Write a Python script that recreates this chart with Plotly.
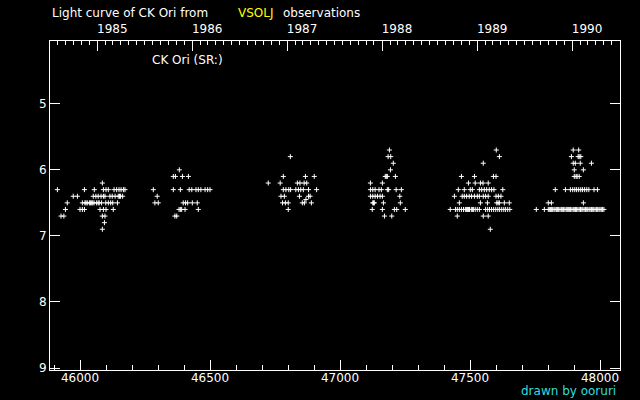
import datetime as dt
import plotly.graph_objects as go

# ---- data (JD - 2400000, visual magnitude) ----
jd_1985 = [45913, 45927, 45938, 45944, 45951, 45974, 45990, 46000, 46009, 46017,
           46017, 46009, 46019, 46023, 46028, 46036, 46040, 46045, 46049, 46054,
           46064, 46070, 46074, 46083, 46055, 46051, 46061, 46070, 46081, 46090,
           46096, 46086, 46090, 46100, 46109, 46077, 46090, 46100, 46086, 46096,
           46094, 46086, 46099, 46109, 46118, 46126, 46115, 46124, 46135, 46128,
           46131, 46141, 46150, 46158, 46167, 46173, 46144, 46147, 46152, 46156, 46164]
mag_1985 = [6.3, 6.7, 6.7, 6.6, 6.5, 6.4, 6.4, 6.6, 6.6, 6.6,
            6.3, 6.5, 6.5, 6.5, 6.5, 6.5, 6.5, 6.5, 6.5, 6.5,
            6.5, 6.5, 6.5, 6.5, 6.3, 6.4, 6.4, 6.4, 6.4, 6.4,
            6.4, 6.2, 6.3, 6.3, 6.3, 6.6, 6.6, 6.6, 6.7, 6.7,
            6.8, 6.9, 6.5, 6.5, 6.5, 6.5, 6.4, 6.4, 6.4, 6.6,
            6.3, 6.3, 6.3, 6.3, 6.3, 6.3, 6.5, 6.4, 6.4, 6.4, 6.4]

jd_1986 = [46282, 46297, 46288, 46301, 46359, 46367, 46394, 46417, 46382,
           46359, 46386, 46420, 46430, 46446, 46455, 46465, 46481, 46491, 46500,
           46397, 46406, 46414, 46432, 46451, 46381, 46386, 46391, 46404, 46455,
           46365, 46372]
mag_1986 = [6.3, 6.4, 6.5, 6.5, 6.1, 6.1, 6.1, 6.1, 6.0,
            6.3, 6.3, 6.3, 6.3, 6.3, 6.3, 6.3, 6.3, 6.3, 6.3,
            6.5, 6.5, 6.5, 6.5, 6.5, 6.6, 6.6, 6.6, 6.6, 6.6,
            6.7, 6.7]

jd_1987 = [46809, 46782, 46867, 46901, 46724, 46770, 46836, 46846, 46862, 46872,
           46782, 46792, 46803, 46810, 46830, 46840, 46849, 46859, 46879, 46910,
           46773, 46786, 46844, 46879, 46885, 46869, 46779, 46790, 46801, 46855,
           46863, 46890, 46801]
mag_1987 = [5.8, 6.1, 6.1, 6.1, 6.2, 6.2, 6.2, 6.2, 6.2, 6.2,
            6.3, 6.3, 6.3, 6.3, 6.3, 6.3, 6.3, 6.3, 6.3, 6.3,
            6.4, 6.4, 6.4, 6.4, 6.4, 6.45, 6.5, 6.5, 6.5, 6.5,
            6.5, 6.5, 6.6]

jd_1988 = [47190, 47185, 47195, 47205, 47194, 47174, 47178, 47182, 47213,
           47117, 47163, 47117, 47126, 47135, 47150, 47159, 47182, 47187, 47216, 47236,
           47117, 47126, 47135, 47144, 47154, 47163, 47230,
           47126, 47129, 47132, 47167, 47232, 47124, 47163, 47209, 47218, 47251,
           47171, 47199]
mag_1988 = [5.7, 5.8, 5.8, 5.9, 6.0, 6.1, 6.1, 6.1, 6.1,
            6.2, 6.2, 6.3, 6.3, 6.3, 6.3, 6.3, 6.3, 6.3, 6.3, 6.3,
            6.4, 6.4, 6.4, 6.4, 6.4, 6.4, 6.4,
            6.5, 6.5, 6.5, 6.5, 6.5, 6.6, 6.6, 6.6, 6.6, 6.6,
            6.7, 6.7]

jd_1989 = [47601, 47613, 47551, 47467, 47517, 47590, 47600,
           47494, 47520, 47540, 47550, 47570,
           47455, 47478, 47501, 47509, 47536, 47545, 47555, 47564, 47574, 47583, 47592, 47626,
           47440, 47470, 47478, 47487, 47497, 47506, 47517, 47528, 47536, 47551, 47560, 47570,
           47600, 47609, 47619,
           47459, 47540, 47567, 47603, 47608, 47613, 47632, 47651,
           47424, 47444, 47451, 47459, 47467, 47475, 47482, 47486, 47490, 47494, 47498, 47505,
           47509, 47513, 47520, 47528, 47536, 47560, 47568, 47575, 47583, 47591, 47599, 47607,
           47614, 47622, 47630, 47637, 47645, 47653,
           47451, 47551, 47570, 47578]
mag_1989 = [5.7, 5.8, 5.9, 6.1, 6.1, 6.1, 6.1,
            6.2, 6.2, 6.2, 6.2, 6.2,
            6.3, 6.3, 6.3, 6.3, 6.3, 6.3, 6.3, 6.3, 6.3, 6.3, 6.3, 6.3,
            6.4, 6.4, 6.4, 6.4, 6.4, 6.4, 6.4, 6.4, 6.4, 6.4, 6.4, 6.4,
            6.4, 6.4, 6.4,
            6.5, 6.5, 6.5, 6.5, 6.5, 6.5, 6.5, 6.5,
            6.6, 6.6, 6.6, 6.6, 6.6, 6.6, 6.6, 6.6, 6.6, 6.6, 6.6, 6.6,
            6.6, 6.6, 6.6, 6.6, 6.6, 6.6, 6.6, 6.6, 6.6, 6.6, 6.6, 6.6,
            6.6, 6.6, 6.6, 6.6, 6.6, 6.6,
            6.7, 6.7, 6.7, 6.9]

jd_1990 = [47897, 47918, 47890, 47916, 47920, 47926, 47897, 47905, 47924, 47967,
           47901, 47936, 47901, 47908, 47912, 47920,
           47828, 47867, 47886, 47895, 47903, 47910, 47918, 47926, 47933, 47941, 47949,
           47957, 47977, 47990,
           47801, 47813, 47936,
           47755, 47786, 47801, 47805, 47810, 47814, 47818, 47823, 47827, 47832, 47836,
           47841, 47846, 47851, 47855, 47860, 47865, 47870, 47874, 47878, 47882, 47887,
           47892, 47897, 47901, 47906, 47910, 47915, 47920, 47925, 47930, 47934, 47939,
           47944, 47949, 47953, 47958, 47962, 47967, 47972, 47976, 47981, 47986, 47991,
           47996, 48000, 48005, 48010, 48015]
mag_1990 = [5.7, 5.7, 5.8, 5.8, 5.8, 5.8, 5.9, 5.9, 5.9, 5.9,
            6.0, 6.0, 6.1, 6.1, 6.1, 6.1,
            6.3, 6.3, 6.3, 6.3, 6.3, 6.3, 6.3, 6.3, 6.3, 6.3, 6.3,
            6.3, 6.3, 6.3,
            6.5, 6.5, 6.5,
            6.6, 6.6, 6.6, 6.6, 6.6, 6.6, 6.6, 6.6, 6.6, 6.6, 6.6,
            6.6, 6.6, 6.6, 6.6, 6.6, 6.6, 6.6, 6.6, 6.6, 6.6, 6.6,
            6.6, 6.6, 6.6, 6.6, 6.6, 6.6, 6.6, 6.6, 6.6, 6.6, 6.6,
            6.6, 6.6, 6.6, 6.6, 6.6, 6.6, 6.6, 6.6, 6.6, 6.6, 6.6,
            6.6, 6.6, 6.6, 6.6, 6.6]

years = [1985, 1986, 1987, 1988, 1989, 1990]
jd_ticks = [46000, 46500, 47000, 47500, 48000]
mag_ticks = [5, 6, 7, 8, 9]

X_RANGE = [45884.6, 48076.9]
Y_RANGE = [9.03, 4.05]
FONT = "DejaVu Sans"


def jd_of(y, m, d=1):
    return (dt.date(y, m, d) - dt.date(1858, 11, 17)).days + 0.5


year_starts = [jd_of(y, 1) for y in years]
month_starts = [jd_of(y, m) for y in range(1984, 1991) for m in range(1, 13)
                if X_RANGE[0] < jd_of(y, m) < X_RANGE[1]]

jd = jd_1985 + jd_1986 + jd_1987 + jd_1988 + jd_1989 + jd_1990
mag = mag_1985 + mag_1986 + mag_1987 + mag_1988 + mag_1989 + mag_1990

fig = go.Figure()
fig.add_trace(go.Scatter(
    x=jd, y=mag, mode="markers", showlegend=False, hoverinfo="x+y",
    marker=dict(symbol="cross-thin", size=3.6, color="white",
                line=dict(color="white", width=1))))
# carrier for the top (calendar year) axis
fig.add_trace(go.Scatter(
    x=jd, y=mag, mode="markers", xaxis="x2", showlegend=False,
    hoverinfo="skip", marker=dict(opacity=0)))

axis_common = dict(showgrid=False, zeroline=False, showline=True,
                   linecolor="white", linewidth=1, tickcolor="white",
                   tickwidth=1, automargin=False,
                   tickfont=dict(family=FONT, size=12, color="white"))

fig.update_layout(
    width=640, height=400,
    paper_bgcolor="black", plot_bgcolor="black",
    margin=dict(l=50, r=20, t=41, b=30, pad=0),
    xaxis=dict(range=X_RANGE, tickmode="array", tickvals=jd_ticks,
               ticktext=[str(v) for v in jd_ticks], ticks="inside", ticklen=10,
               ticklabelstandoff=-3,
               minor=dict(dtick=100, tick0=46000, ticks="inside", ticklen=5,
                          tickcolor="white", tickwidth=1, showgrid=False),
               **axis_common),
    xaxis2=dict(range=X_RANGE, overlaying="x", side="top", anchor="y",
                tickmode="array", tickvals=year_starts,
                ticktext=[str(y) for y in years], ticks="inside", ticklen=10,
                ticklabelshift=15, ticklabelstandoff=2,
                minor=dict(tickmode="array", tickvals=month_starts,
                           ticks="inside", ticklen=4, tickcolor="white",
                           tickwidth=1, showgrid=False),
                **axis_common),
    yaxis=dict(range=Y_RANGE, tickmode="array", tickvals=mag_ticks,
               ticktext=[str(v) for v in mag_ticks], ticks="inside",
               ticklen=10, mirror="ticks", **axis_common),
    annotations=[
        dict(text="Light curve of CK Ori from", xref="paper", yref="paper",
             x=0.0, y=1.086, xanchor="left", yanchor="middle", showarrow=False,
             font=dict(family=FONT, size=12, color="white")),
        dict(text="VSOLJ", xref="paper", yref="paper",
             x=0.3256, y=1.086, xanchor="left", yanchor="middle", showarrow=False,
             font=dict(family=FONT, size=12, color="#ffff00")),
        dict(text="observations", xref="paper", yref="paper",
             x=0.4053, y=1.086, xanchor="left", yanchor="middle", showarrow=False,
             font=dict(family=FONT, size=12, color="white")),
        dict(text="CK Ori (SR:)", xref="paper", yref="paper",
             x=0.1754, y=0.942, xanchor="left", yanchor="middle", showarrow=False,
             font=dict(family=FONT, size=12, color="white")),
        dict(text="drawn by ooruri", xref="paper", yref="paper",
             x=0.9965, y=-0.0638, xanchor="right", yanchor="middle", showarrow=False,
             font=dict(family=FONT, size=12, color="#33dddd")),
    ],
)

fig.write_html("out.html",
               config={"displayModeBar": False},
               post_script="document.body.style.margin='0px';"
                           "document.body.style.overflow='hidden';")
